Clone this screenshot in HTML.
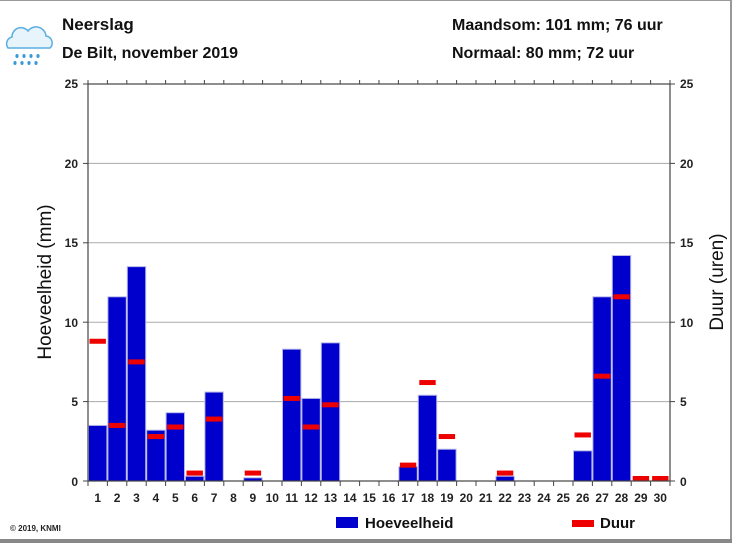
<!DOCTYPE html>
<html><head><meta charset="utf-8"><style>
html,body{margin:0;padding:0;background:#fff}
svg{display:block;font-family:"Liberation Sans",Arial,sans-serif}
</style></head><body>
<svg width="732" height="543" viewBox="0 0 732 543">
<rect x="0" y="0" width="732" height="543" fill="#fff"/>
<line x1="0" y1="0.5" x2="732" y2="0.5" stroke="#999" stroke-width="1"/>
<line x1="731" y1="0" x2="731" y2="543" stroke="#999" stroke-width="2"/>
<rect x="0" y="539" width="732" height="4" fill="#888"/>
<g>
<path d="M8 48 a7 7 0 0 1 4-11 a9 9 0 0 1 16-6 a10 10 0 0 1 18 5 a7 7 0 0 1 4 12 z" fill="#e8f4fc" stroke="#5aaee0" stroke-width="1.5"/>
<g fill="#3a9ad8"><ellipse cx="17" cy="56" rx="1.6" ry="2"/><ellipse cx="24" cy="56" rx="1.6" ry="2"/><ellipse cx="31" cy="56" rx="1.6" ry="2"/><ellipse cx="38" cy="56" rx="1.6" ry="2"/><ellipse cx="15" cy="63" rx="1.6" ry="2"/><ellipse cx="22" cy="63" rx="1.6" ry="2"/><ellipse cx="29" cy="63" rx="1.6" ry="2"/><ellipse cx="36" cy="63" rx="1.6" ry="2"/></g>
</g>
<g font-weight="bold" fill="#111">
<text x="62" y="30" font-size="17">Neerslag</text>
<text x="62" y="58" font-size="16">De Bilt, november 2019</text>
<text x="452" y="30" font-size="16">Maandsom: 101 mm; 76 uur</text>
<text x="452" y="58" font-size="16">Normaal: 80 mm; 72 uur</text>
</g>
<g stroke="#aaa" stroke-width="1">
<line x1="88" y1="401.6" x2="670" y2="401.6"/>
<line x1="88" y1="322.2" x2="670" y2="322.2"/>
<line x1="88" y1="242.8" x2="670" y2="242.8"/>
<line x1="88" y1="163.4" x2="670" y2="163.4"/>
</g>
<g id="bars"></g>
<g stroke="#444" stroke-width="1.2" fill="none">
<rect x="88" y="84" width="582" height="397"/>
</g>
<g id="ticks" stroke="#444" stroke-width="1"></g>
<g font-size="12" font-weight="bold" fill="#222" text-anchor="end">
<text x="78" y="486">0</text><text x="78" y="406">5</text><text x="78" y="327">10</text><text x="78" y="247">15</text><text x="78" y="168">20</text><text x="78" y="88">25</text>
</g>
<g font-size="12" font-weight="bold" fill="#222" text-anchor="start">
<text x="680" y="486">0</text><text x="680" y="406">5</text><text x="680" y="327">10</text><text x="680" y="247">15</text><text x="680" y="168">20</text><text x="680" y="88">25</text>
</g>
<g font-size="12" font-weight="bold" fill="#222" text-anchor="middle">
<text x="97.7" y="502">1</text><text x="117.1" y="502">2</text><text x="136.5" y="502">3</text><text x="155.9" y="502">4</text><text x="175.3" y="502">5</text><text x="194.7" y="502">6</text><text x="214.1" y="502">7</text><text x="233.5" y="502">8</text><text x="252.9" y="502">9</text><text x="272.3" y="502">10</text><text x="291.7" y="502">11</text><text x="311.1" y="502">12</text><text x="330.5" y="502">13</text><text x="349.9" y="502">14</text><text x="369.3" y="502">15</text><text x="388.7" y="502">16</text><text x="408.1" y="502">17</text><text x="427.5" y="502">18</text><text x="446.9" y="502">19</text><text x="466.3" y="502">20</text><text x="485.7" y="502">21</text><text x="505.1" y="502">22</text><text x="524.5" y="502">23</text><text x="543.9" y="502">24</text><text x="563.3" y="502">25</text><text x="582.7" y="502">26</text><text x="602.1" y="502">27</text><text x="621.5" y="502">28</text><text x="640.9" y="502">29</text><text x="660.3" y="502">30</text>
</g>
<text transform="translate(51,282) rotate(-90)" font-size="19" fill="#111" text-anchor="middle">Hoeveelheid (mm)</text>
<text transform="translate(723,282) rotate(-90)" font-size="19" fill="#111" text-anchor="middle">Duur (uren)</text>
<text x="10" y="531" font-size="8" font-weight="bold" fill="#222">© 2019, KNMI</text>
<rect x="336" y="517" width="22" height="11" fill="#0000cc"/>
<text x="365" y="528" font-size="15" font-weight="bold" fill="#111">Hoeveelheid</text>
<rect x="572" y="520" width="22" height="7" fill="#ee0000"/>
<text x="600" y="528" font-size="15" font-weight="bold" fill="#111">Duur</text>
</svg>
<script>
(function(){
var ns="http://www.w3.org/2000/svg";
var hv={1:3.5,2:11.6,3:13.5,4:3.2,5:4.3,6:0.3,7:5.6,9:0.2,11:8.3,12:5.2,13:8.7,17:0.9,18:5.4,19:2.0,22:0.3,26:1.9,27:11.6,28:14.2};
var du={1:8.8,2:3.5,3:7.5,4:2.8,5:3.4,6:0.5,7:3.9,9:0.5,11:5.2,12:3.4,13:4.8,17:1.0,18:6.2,19:2.8,22:0.5,26:2.9,27:6.6,28:11.6,29:0.1,30:0.1};
var g=document.getElementById("bars"),t=document.getElementById("ticks");
var s=15.88,y0=481,w=19.4;
function r(x,y,wd,h,f,st){var e=document.createElementNS(ns,"rect");e.setAttribute("x",x);e.setAttribute("y",y);e.setAttribute("width",wd);e.setAttribute("height",h);e.setAttribute("fill",f);if(st){e.setAttribute("stroke",st);e.setAttribute("stroke-width","1");}g.appendChild(e);}
for(var i=1;i<=30;i++){var x=88+(i-1)*w;if(hv[i]){var h=hv[i]*s;r(x+0.5,y0-h,w-1,h,"#0000cc","#b8b8e8");}}
for(var i=1;i<=30;i++){var x=88+(i-1)*w;if(du[i]!==undefined){var yy=y0-du[i]*s;r(x+1.5,Math.min(yy-2.5,y0-5),w-3,5,"#ee0000");}}
function l(x1,y1,x2,y2){var e=document.createElementNS(ns,"line");e.setAttribute("x1",x1);e.setAttribute("y1",y1);e.setAttribute("x2",x2);e.setAttribute("y2",y2);t.appendChild(e);}
for(var i=0;i<=30;i++){var x=88+i*w;l(x,481,x,486);l(x,84,x,80);}
for(var k=0;k<=25;k+=5){var y=481-k*s;l(83,y,88,y);l(670,y,675,y);}
})();
</script>
</body></html>
